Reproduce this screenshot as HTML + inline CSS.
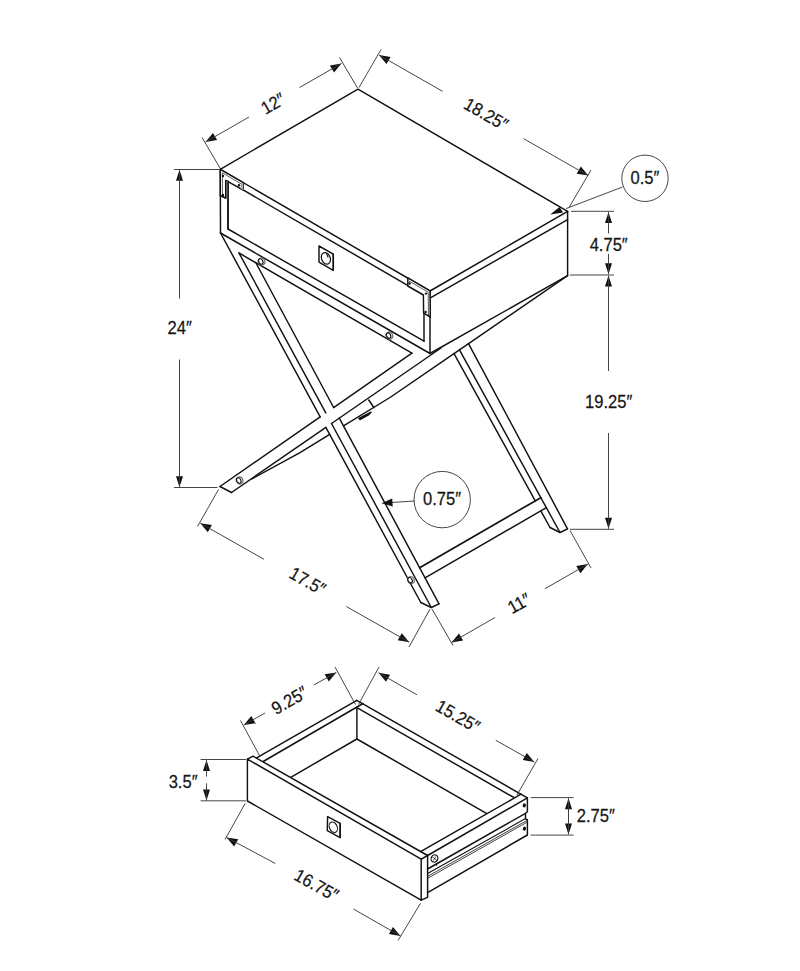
<!DOCTYPE html>
<html><head><meta charset="utf-8"><style>
html,body{margin:0;padding:0;background:#fff;}
svg{display:block;}
.o{stroke:#111;stroke-width:1.45;fill:none;stroke-linecap:round;stroke-linejoin:round;}
.d{stroke:#3c3c3c;stroke-width:0.95;fill:none;}
.ar{fill:#111;stroke:none;}
text{font-family:"Liberation Sans",sans-serif;fill:#151515;stroke:#151515;stroke-width:0.25;text-anchor:middle;}
</style></head><body>
<svg width="800" height="971" viewBox="0 0 800 971">
<polyline class="o" points="220.30,169.30 358.00,89.20 567.60,211.40"/>
<line class="o" x1="220.30" y1="169.30" x2="430.00" y2="291.00"/>
<line class="o" x1="430.00" y1="291.00" x2="567.60" y2="211.40"/>
<line class="o" x1="430.80" y1="297.60" x2="567.60" y2="219.60"/>
<line class="o" x1="567.60" y1="211.40" x2="567.60" y2="275.60"/>
<line class="o" x1="430.00" y1="291.00" x2="430.00" y2="353.50"/>
<line class="o" x1="430.00" y1="353.50" x2="567.60" y2="275.60"/>
<line class="o" x1="220.30" y1="169.30" x2="220.50" y2="233.00"/>
<line class="o" x1="220.50" y1="233.00" x2="430.00" y2="353.50"/>
<line class="o" x1="228.00" y1="181.20" x2="424.00" y2="294.80"/>
<line class="o" x1="228.00" y1="181.20" x2="228.00" y2="229.00"/>
<line class="o" x1="228.00" y1="229.00" x2="424.00" y2="341.20"/>
<line class="o" x1="424.00" y1="294.80" x2="424.00" y2="341.20"/>
<polygon class="o" points="220.30,169.30 243.30,182.60 243.30,190.20 225.80,180.40 225.80,198.20 220.30,195.60" style="fill:#fff"/>
<polyline points="222.4,196.0 222.4,172.8 241.6,184.2" style="fill:none;stroke:#333;stroke-width:0.8"/>
<polygon points="240.8,182.3 243.3,183.2 243.3,190.2 240.8,188.8" fill="#aaa"/>
<polygon points="225.8,180.6 228.0,181.8 228.0,199.0 225.8,198.2" fill="#bbb"/>
<polyline class="o" points="225.80,180.40 225.80,198.20 220.30,195.60"/>
<line class="o" x1="228.00" y1="181.20" x2="228.00" y2="229.00"/>
<polygon class="o" points="407.80,277.80 430.00,290.80 430.30,317.00 423.60,313.20 423.40,295.00 407.80,286.00" style="fill:#fff"/>
<polyline points="409.0,281.0 428.2,292.2 428.5,315.2" style="fill:none;stroke:#333;stroke-width:0.8"/>
<circle cx="223.0" cy="176.0" r="1.2" fill="#111"/>
<circle cx="239.0" cy="185.3" r="1.2" fill="#111"/>
<circle cx="223.0" cy="195.0" r="1.2" fill="#111"/>
<circle cx="409.6" cy="283.5" r="1.2" fill="#111"/>
<circle cx="426.0" cy="293.6" r="1.2" fill="#111"/>
<circle cx="425.6" cy="312.0" r="1.2" fill="#111"/>
<polygon class="o" points="319.00,246.00 333.30,254.20 333.30,270.30 319.00,262.10"/>
<ellipse cx="325.9" cy="258.4" rx="4.3" ry="6.0" transform="rotate(-22 325.9 258.4)" class="o" style="stroke-width:1.2"/>
<path d="M326.6,253.6 L328.2,257.6" style="stroke:#111;stroke-width:1.1"/>
<line class="o" x1="333.30" y1="254.20" x2="333.30" y2="270.30"/>
<line class="o" x1="239.00" y1="253.00" x2="411.90" y2="353.10"/>
<line class="o" x1="220.50" y1="233.00" x2="320.17" y2="416.87"/>
<line class="o" x1="325.88" y1="427.40" x2="420.80" y2="602.50"/>
<line class="o" x1="239.00" y1="253.00" x2="325.78" y2="412.97"/>
<line class="o" x1="331.50" y1="423.52" x2="431.30" y2="607.50"/>
<line class="o" x1="256.00" y1="263.00" x2="333.61" y2="407.53"/>
<line class="o" x1="339.31" y1="418.14" x2="439.00" y2="603.80"/>
<polyline class="o" points="420.80,602.50 431.30,607.50 439.00,603.80"/>
<line class="o" x1="220.00" y1="486.50" x2="320.17" y2="416.87"/>
<line class="o" x1="333.61" y1="407.53" x2="411.90" y2="353.10"/>
<line class="o" x1="231.50" y1="492.50" x2="325.88" y2="427.40"/>
<line class="o" x1="331.50" y1="423.52" x2="441.00" y2="348.00"/>
<line class="o" x1="220.00" y1="486.50" x2="231.50" y2="492.50"/>
<polyline class="o" points="252.00,478.80 300.00,452.60 329.69,434.42"/>
<polyline class="o" points="343.51,425.96 390.00,397.50 454.00,353.60 567.60,275.60"/>
<line class="o" x1="368.80" y1="400.00" x2="373.80" y2="407.50"/>
<polygon class="o" points="359.00,418.50 371.00,412.20 368.00,415.20 360.00,419.50" style="fill:#111"/>
<ellipse cx="261.6" cy="261.5" rx="3.2" ry="3.6" style="fill:none;stroke:#666;stroke-width:1.1" transform="rotate(-30 261.6 261.5)"/>
<ellipse cx="260.8" cy="261.5" rx="2.0" ry="2.8" style="fill:#fff;stroke:#111;stroke-width:1.1" transform="rotate(-30 260.8 261.5)"/>
<ellipse cx="389.40000000000003" cy="335.6" rx="3.2" ry="3.6" style="fill:none;stroke:#666;stroke-width:1.1" transform="rotate(-30 389.40000000000003 335.6)"/>
<ellipse cx="388.6" cy="335.6" rx="2.0" ry="2.8" style="fill:#fff;stroke:#111;stroke-width:1.1" transform="rotate(-30 388.6 335.6)"/>
<ellipse cx="239.6" cy="480.5" rx="3.2" ry="3.6" style="fill:none;stroke:#666;stroke-width:1.1" transform="rotate(-30 239.6 480.5)"/>
<ellipse cx="238.8" cy="480.5" rx="2.0" ry="2.8" style="fill:#fff;stroke:#111;stroke-width:1.1" transform="rotate(-30 238.8 480.5)"/>
<ellipse cx="410.90000000000003" cy="580.2" rx="3.2" ry="3.6" style="fill:none;stroke:#666;stroke-width:1.1" transform="rotate(-30 410.90000000000003 580.2)"/>
<ellipse cx="410.1" cy="580.2" rx="2.0" ry="2.8" style="fill:#fff;stroke:#111;stroke-width:1.1" transform="rotate(-30 410.1 580.2)"/>
<line class="o" x1="459.50" y1="349.80" x2="560.00" y2="532.50"/>
<line class="o" x1="468.50" y1="343.70" x2="567.50" y2="528.80"/>
<polyline class="o" points="550.00,527.50 560.00,532.50 567.50,528.80"/>
<line class="o" style="stroke-width:1.7" x1="419.62" y1="567.70" x2="540.82" y2="497.64"/>
<line class="o" x1="425.04" y1="577.80" x2="546.35" y2="507.68"/>
<line class="o" x1="454.00" y1="353.60" x2="535.28" y2="500.84"/>
<line class="o" x1="540.82" y1="510.88" x2="550.00" y2="527.50"/>
<line class="d" x1="220.00" y1="168.00" x2="202.00" y2="137.50"/>
<line class="d" x1="357.50" y1="88.00" x2="339.50" y2="57.50"/>
<polygon class="ar" points="205.50,142.00 212.98,132.95 217.08,140.05"/>
<polygon class="ar" points="341.50,63.50 334.02,72.55 329.92,65.45"/>
<line class="d" x1="205.50" y1="142.00" x2="249.00" y2="117.00"/>
<line class="d" x1="299.50" y1="87.50" x2="341.50" y2="63.50"/>
<text x="0" y="0" font-size="18.0" transform="translate(276.00 109.00) rotate(-30) scale(0.92 1)">12″</text>
<line class="d" x1="359.00" y1="87.50" x2="381.00" y2="49.50"/>
<line class="d" x1="569.00" y1="207.50" x2="591.00" y2="170.00"/>
<polygon class="ar" points="379.00,55.00 390.58,56.94 386.48,64.04"/>
<polygon class="ar" points="588.30,175.60 576.72,173.66 580.82,166.56"/>
<line class="d" x1="379.00" y1="55.00" x2="442.50" y2="91.30"/>
<line class="d" x1="523.50" y1="138.60" x2="588.30" y2="175.60"/>
<text x="0" y="0" font-size="18.0" transform="translate(483.00 119.50) rotate(30) scale(0.92 1)">18.25″</text>
<circle cx="645.0" cy="178.3" r="23.2" class="d"/>
<text x="0" y="0" font-size="18.0" transform="translate(645.00 183.70) rotate(0) scale(0.92 1)">0.5″</text>
<line class="d" x1="622.50" y1="187.00" x2="566.00" y2="208.60"/>
<polygon class="ar" points="563.00,212.60 550.20,214.60 559.50,207.00"/>
<line class="d" x1="571.00" y1="211.30" x2="614.00" y2="211.30"/>
<line class="d" x1="570.00" y1="275.00" x2="614.00" y2="275.00"/>
<polygon class="ar" points="608.50,212.00 612.00,223.00 605.00,223.00"/>
<polygon class="ar" points="608.50,274.30 605.00,263.30 612.00,263.30"/>
<line class="d" x1="608.50" y1="212.00" x2="608.50" y2="233.50"/>
<line class="d" x1="608.50" y1="254.00" x2="608.50" y2="274.30"/>
<text x="0" y="0" font-size="18.0" transform="translate(608.70 251.20) rotate(0) scale(0.92 1)">4.75″</text>
<line class="d" x1="570.00" y1="529.30" x2="614.00" y2="529.30"/>
<polygon class="ar" points="608.50,275.60 612.00,286.60 605.00,286.60"/>
<polygon class="ar" points="608.50,528.80 605.00,517.80 612.00,517.80"/>
<line class="d" x1="608.50" y1="275.60" x2="608.50" y2="371.00"/>
<line class="d" x1="608.50" y1="433.00" x2="608.50" y2="528.80"/>
<text x="0" y="0" font-size="18.0" transform="translate(608.70 408.20) rotate(0) scale(0.92 1)">19.25″</text>
<line class="d" x1="174.00" y1="169.50" x2="219.50" y2="169.50"/>
<line class="d" x1="174.00" y1="487.50" x2="217.50" y2="487.50"/>
<polygon class="ar" points="179.50,169.80 183.00,180.80 176.00,180.80"/>
<polygon class="ar" points="179.50,487.20 176.00,476.20 183.00,476.20"/>
<line class="d" x1="179.50" y1="169.80" x2="179.50" y2="298.50"/>
<line class="d" x1="179.50" y1="359.50" x2="179.50" y2="487.20"/>
<text x="0" y="0" font-size="18.0" transform="translate(179.70 334.00) rotate(0) scale(0.92 1)">24″</text>
<line class="d" x1="218.50" y1="489.50" x2="197.50" y2="526.50"/>
<line class="d" x1="430.00" y1="609.00" x2="409.00" y2="647.00"/>
<polygon class="ar" points="200.30,523.20 211.89,525.08 207.83,532.21"/>
<polygon class="ar" points="409.30,642.20 397.71,640.32 401.77,633.19"/>
<line class="d" x1="200.30" y1="523.20" x2="264.00" y2="559.30"/>
<line class="d" x1="346.30" y1="606.50" x2="409.30" y2="642.20"/>
<text x="0" y="0" font-size="18.0" transform="translate(304.50 586.50) rotate(29.7) scale(0.92 1)">17.5″</text>
<line class="d" x1="432.00" y1="609.00" x2="453.00" y2="645.50"/>
<line class="d" x1="570.00" y1="530.50" x2="591.00" y2="568.00"/>
<polygon class="ar" points="451.50,642.50 458.99,633.46 463.08,640.57"/>
<polygon class="ar" points="587.90,564.10 580.41,573.14 576.32,566.03"/>
<line class="d" x1="451.50" y1="642.50" x2="495.00" y2="617.50"/>
<line class="d" x1="545.00" y1="588.70" x2="587.90" y2="564.10"/>
<text x="0" y="0" font-size="18.0" transform="translate(522.00 608.70) rotate(-29) scale(0.92 1)">11″</text>
<circle cx="442.2" cy="499.6" r="28.2" class="d"/>
<text x="0" y="0" font-size="18.0" transform="translate(442.00 505.00) rotate(0) scale(0.92 1)">0.75″</text>
<line class="d" x1="414.70" y1="501.00" x2="390.00" y2="502.60"/>
<polygon class="ar" points="381.50,503.30 392.20,498.55 392.75,506.53"/>
<polygon class="o" points="247.40,759.10 421.20,859.20 421.20,900.20 247.40,801.00"/>
<polyline class="o" points="247.40,759.10 253.10,756.20 427.60,855.50 427.60,897.30 421.20,900.20"/>
<line class="o" x1="421.20" y1="859.20" x2="427.60" y2="855.50"/>
<polygon class="o" points="327.60,816.60 340.20,823.40 340.10,837.60 327.30,830.60"/>
<line class="o" x1="340.20" y1="823.40" x2="340.10" y2="837.60"/>
<ellipse cx="333.3" cy="827.2" rx="3.8" ry="5.5" class="o" style="stroke-width:1.1" transform="rotate(-25 333.3 827.2)"/>
<line class="o" x1="256.60" y1="757.80" x2="356.80" y2="700.30"/>
<line class="o" x1="263.20" y1="761.50" x2="363.00" y2="703.50"/>
<line class="o" x1="356.80" y1="700.30" x2="527.40" y2="797.90"/>
<line class="o" x1="356.90" y1="707.60" x2="514.20" y2="797.70"/>
<line class="o" x1="356.90" y1="707.60" x2="356.90" y2="739.00"/>
<line class="o" x1="356.90" y1="739.00" x2="290.80" y2="777.30"/>
<line class="o" x1="356.90" y1="739.00" x2="486.40" y2="813.30"/>
<line class="o" x1="421.00" y1="851.30" x2="521.00" y2="794.20"/>
<line class="o" x1="427.60" y1="855.50" x2="527.40" y2="797.90"/>
<polyline class="o" points="527.40,797.90 527.40,811.80 525.50,813.30 525.50,818.90 527.40,819.60 527.40,835.00"/>
<line class="o" x1="427.60" y1="869.00" x2="525.50" y2="813.30"/>
<line class="o" style="stroke-width:1.1" x1="427.6" y1="873.6" x2="525.5" y2="818.6"/>
<line class="o" style="stroke-width:0.8" x1="427.6" y1="876.4" x2="527.4" y2="820.2"/>
<line class="o" style="stroke-width:0.8" x1="427.6" y1="878.4" x2="527.4" y2="822.0"/>
<line class="o" x1="427.60" y1="892.60" x2="527.40" y2="835.00"/>
<ellipse cx="524.3" cy="805.4" rx="1.6" ry="2.1" fill="#111" transform="rotate(20 524.3 805.4)"/>
<ellipse cx="524.4" cy="828.6" rx="1.6" ry="2.1" fill="#111" transform="rotate(20 524.4 828.6)"/>
<ellipse cx="434.5" cy="858.5" rx="3.3" ry="3.7" transform="rotate(30 434.5 858.5)" style="fill:#fff;stroke:#111;stroke-width:1.2"/>
<path d="M432.6,857.2 L436.4,859.8 M435.6,856.6 L433.4,860.4" style="stroke:#333;stroke-width:0.9"/>
<polygon points="435.3,864.6 437.6,863.4 436.6,866.0" fill="#111"/>
<line class="d" x1="355.50" y1="704.50" x2="335.00" y2="667.00"/>
<line class="d" x1="260.00" y1="756.50" x2="240.50" y2="720.50"/>
<polygon class="ar" points="243.80,725.00 251.34,716.00 255.39,723.14"/>
<polygon class="ar" points="336.30,672.50 328.76,681.50 324.71,674.36"/>
<line class="d" x1="243.80" y1="725.00" x2="265.00" y2="713.00"/>
<line class="d" x1="313.80" y1="685.00" x2="336.30" y2="672.50"/>
<text x="0" y="0" font-size="18.0" transform="translate(292.50 705.70) rotate(-30) scale(0.92 1)">9.25″</text>
<line class="d" x1="358.50" y1="704.50" x2="379.00" y2="667.00"/>
<line class="d" x1="517.00" y1="795.00" x2="538.00" y2="758.50"/>
<polygon class="ar" points="378.50,672.80 390.08,674.71 386.01,681.82"/>
<polygon class="ar" points="534.30,762.00 522.72,760.09 526.79,752.98"/>
<line class="d" x1="378.50" y1="672.80" x2="417.00" y2="694.80"/>
<line class="d" x1="495.80" y1="740.30" x2="534.30" y2="762.00"/>
<text x="0" y="0" font-size="18.0" transform="translate(454.80 721.50) rotate(30) scale(0.92 1)">15.25″</text>
<line class="d" x1="200.60" y1="759.50" x2="246.00" y2="759.50"/>
<line class="d" x1="200.60" y1="800.80" x2="246.00" y2="800.80"/>
<polygon class="ar" points="206.50,760.00 210.00,771.00 203.00,771.00"/>
<polygon class="ar" points="206.50,800.60 203.00,789.60 210.00,789.60"/>
<line class="d" x1="206.50" y1="760.00" x2="206.50" y2="776.50"/>
<line class="d" x1="206.50" y1="783.30" x2="206.50" y2="800.60"/>
<text x="0" y="0" font-size="18.0" transform="translate(183.10 787.60) rotate(0) scale(0.92 1)">3.5″</text>
<line class="d" x1="530.60" y1="797.60" x2="573.50" y2="797.60"/>
<line class="d" x1="530.60" y1="835.10" x2="573.50" y2="835.10"/>
<polygon class="ar" points="568.50,798.30 572.00,809.30 565.00,809.30"/>
<polygon class="ar" points="568.50,834.40 565.00,823.40 572.00,823.40"/>
<line class="d" x1="568.50" y1="798.30" x2="568.50" y2="816.00"/>
<line class="d" x1="568.50" y1="816.00" x2="568.50" y2="834.40"/>
<line class="d" x1="568.50" y1="805.00" x2="568.50" y2="828.00"/>
<text x="0" y="0" font-size="18.0" transform="translate(595.80 821.50) rotate(0) scale(0.92 1)">2.75″</text>
<line class="d" x1="245.20" y1="803.40" x2="225.00" y2="839.50"/>
<line class="d" x1="420.50" y1="903.30" x2="398.00" y2="940.50"/>
<polygon class="ar" points="226.60,837.50 238.19,839.35 234.15,846.49"/>
<polygon class="ar" points="400.50,935.90 388.91,934.05 392.95,926.91"/>
<line class="d" x1="226.60" y1="837.50" x2="275.40" y2="863.50"/>
<line class="d" x1="353.40" y1="909.00" x2="400.50" y2="935.90"/>
<text x="0" y="0" font-size="18.0" transform="translate(313.50 890.50) rotate(29) scale(0.92 1)">16.75″</text>
</svg>
</body></html>
